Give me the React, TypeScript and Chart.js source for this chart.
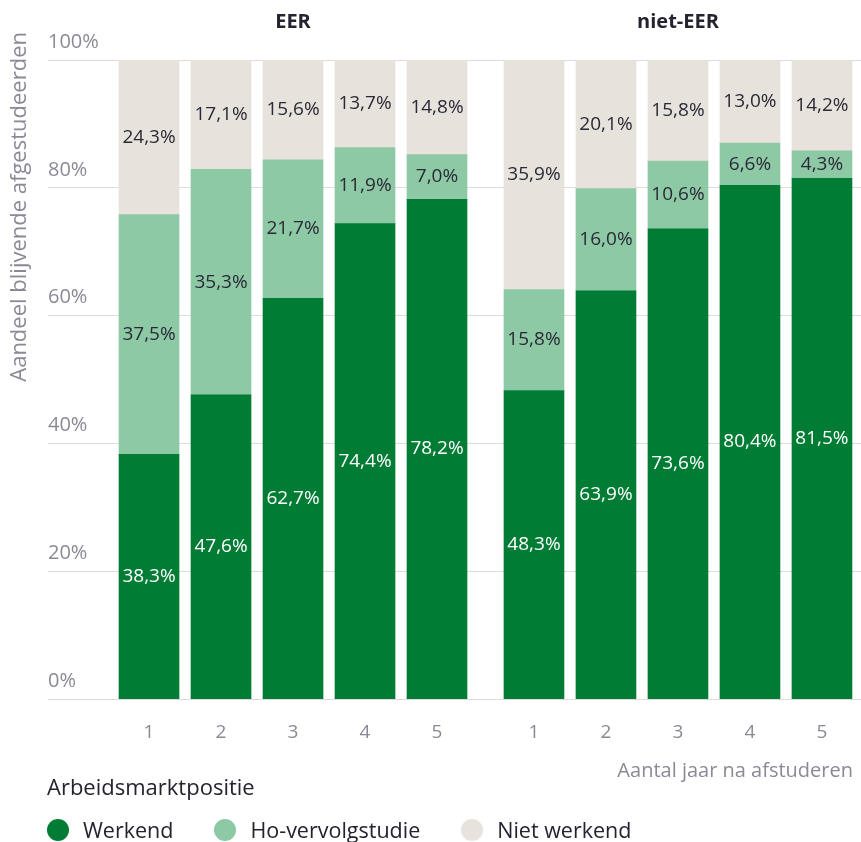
import React, { useEffect, useRef } from "react";
import { Chart, registerables } from "chart.js";

Chart.register(...registerables);

// ---------- data ----------
const groups = ["EER", "niet-EER"];
const years = ["1", "2", "3", "4", "5"];
const seriesNames = ["Werkend", "Ho-vervolgstudie", "Niet werkend"];

const werkendEER = [38.3, 47.6, 62.7, 74.4, 78.2];
const werkendNietEER = [48.3, 63.9, 73.6, 80.4, 81.5];
const hoEER = [37.5, 35.3, 21.7, 11.9, 7.0];
const hoNietEER = [15.8, 16.0, 10.6, 6.6, 4.3];
const nietWerkendEER = [24.3, 17.1, 15.6, 13.7, 14.8];
const nietWerkendNietEER = [35.9, 20.1, 15.8, 13.0, 14.2];

const yTickStep = 20;
const yTitle = "Aandeel blijvende afgestudeerden";
const xTitle = "Aantal jaar na afstuderen";
const legendTitle = "Arbeidsmarktpositie";

// ---------- style ----------
const colors = ["#007c34", "#8ec9a6", "#e8e2dc"];
const labelColors = ["#ffffff", "#2a2936", "#2a2936"];
const gridColor = "#dfdad6";
const axisText = "#8b8995";
const darkText = "#24232f";
const FONT = "'Open Sans'";

// layout of the index axis (category units): extra gap between the two groups
const GROUP_GAP = 0.347;
const X_MIN = -1.403;
const X_MAX = 9.778;

const groupStart = (g: number) => g * (years.length + GROUP_GAP);
const positions: number[] = [];
const tickLabels: string[] = [];
groups.forEach((_, g) =>
  years.forEach((y, i) => {
    positions.push(groupStart(g) + i);
    tickLabels.push(y);
  })
);

const toPoints = (a: number[], b: number[]) =>
  [...a, ...b].map((v, k) => ({ x: positions[k], y: v }));

const seriesData = [
  toPoints(werkendEER, werkendNietEER),
  toPoints(hoEER, hoNietEER),
  toPoints(nietWerkendEER, nietWerkendNietEER),
];

const fmt = (v: number) => v.toFixed(1).replace(".", ",") + "%";

const textPlugin = {
  id: "textPlugin",
  afterDatasetsDraw(chart: any) {
    const ctx = chart.ctx;
    ctx.save();
    ctx.font = `19px ${FONT}`;
    ctx.textAlign = "center";
    ctx.textBaseline = "middle";
    chart.data.datasets.forEach((ds: any, di: number) => {
      const meta = chart.getDatasetMeta(di);
      meta.data.forEach((bar: any, i: number) => {
        const { x, y, base } = bar.getProps(["x", "y", "base"], true);
        const top = Math.max(y, chart.chartArea.top);
        ctx.fillStyle = labelColors[di];
        ctx.fillText(fmt(ds.data[i].y), x, (top + base) / 2);
      });
    });
    ctx.restore();
  },
  afterDraw(chart: any) {
    const ctx = chart.ctx;
    const xs = chart.scales.x;
    const area = chart.chartArea;
    ctx.save();
    // group titles
    ctx.font = `bold 20px ${FONT}`;
    ctx.fillStyle = darkText;
    ctx.textAlign = "center";
    ctx.textBaseline = "middle";
    groups.forEach((g, gi) => {
      const a = xs.getPixelForValue(groupStart(gi));
      const b = xs.getPixelForValue(groupStart(gi) + years.length - 1);
      ctx.fillText(g, (a + b) / 2, area.top - 38);
    });
    // y axis title
    ctx.font = `22px ${FONT}`;
    ctx.fillStyle = axisText;
    ctx.translate(20, 32);
    ctx.rotate(-Math.PI / 2);
    ctx.textAlign = "right";
    ctx.fillText(yTitle, 0, 0);
    ctx.restore();
  },
};

export default function App() {
  const ref = useRef<HTMLCanvasElement | null>(null);

  useEffect(() => {
    if (!ref.current) return;
    const chart = new Chart(ref.current, {
      type: "bar",
      data: {
        datasets: seriesNames.map((name, i) => ({
          label: name,
          data: seriesData[i] as any,
          backgroundColor: colors[i],
          borderWidth: 0,
          barThickness: 60,
        })),
      },
      options: {
        responsive: false,
        animation: false,
        events: [],
        layout: { padding: { left: 48, top: 60, right: 0, bottom: 59 } },
        plugins: {
          legend: { display: false },
          tooltip: { enabled: false },
          title: { display: false },
        },
        scales: {
          x: {
            type: "linear",
            stacked: true,
            offset: false,
            min: X_MIN,
            max: X_MAX,
            grid: { display: false, drawTicks: false },
            border: { display: false },
            afterBuildTicks: (scale: any) => {
              scale.ticks = positions.map((v) => ({ value: v }));
            },
            ticks: {
              callback: (_v: any, i: number) => tickLabels[i],
              color: axisText,
              font: { family: FONT, size: 19 },
              padding: 22,
              maxRotation: 0,
              autoSkip: false,
            },
            title: {
              display: true,
              text: xTitle,
              align: "end",
              color: axisText,
              font: { family: FONT, size: 20 },
              padding: { top: -7, bottom: 0 },
            },
          },
          y: {
            stacked: true,
            min: 0,
            max: 100,
            ticks: {
              stepSize: yTickStep,
              mirror: true,
              padding: 0,
              labelOffset: -18,
              callback: (v: any) => v + "%",
              color: axisText,
              font: { family: FONT, size: 20 },
            },
            grid: { color: gridColor, drawTicks: false },
            border: { display: false },
          },
          y2: {
            position: "right",
            min: 0,
            max: 100,
            ticks: { stepSize: yTickStep, display: false },
            grid: {
              drawOnChartArea: false,
              drawTicks: true,
              tickLength: 8,
              color: gridColor,
            },
            border: { display: false },
          },
        },
      } as any,
      plugins: [textPlugin],
    });
    return () => chart.destroy();
  }, []);

  return (
    <div
      style={{
        position: "absolute",
        left: 0,
        top: 0,
        width: 861,
        height: 842,
        fontFamily: FONT,
      }}
    >
      <canvas
        ref={ref}
        width={861}
        height={842}
        style={{ display: "block", width: 861, height: 842 }}
      />
      <div
        style={{
          position: "absolute",
          left: 47,
          top: 772,
          fontSize: 22,
          lineHeight: "28px",
          color: darkText,
        }}
      >
        {legendTitle}
      </div>
      <div
        style={{
          position: "absolute",
          left: 47,
          top: 817,
          display: "flex",
          alignItems: "center",
          fontSize: 21.5,
          lineHeight: "26px",
          color: darkText,
        }}
      >
        {seriesNames.map((n, i) => (
          <div
            key={n}
            style={{ display: "flex", alignItems: "center", marginRight: 41 }}
          >
            <span
              style={{
                display: "inline-block",
                width: 22,
                height: 22,
                borderRadius: 11,
                background: colors[i],
                marginRight: 14,
              }}
            />
            <span>{n}</span>
          </div>
        ))}
      </div>
    </div>
  );
}
